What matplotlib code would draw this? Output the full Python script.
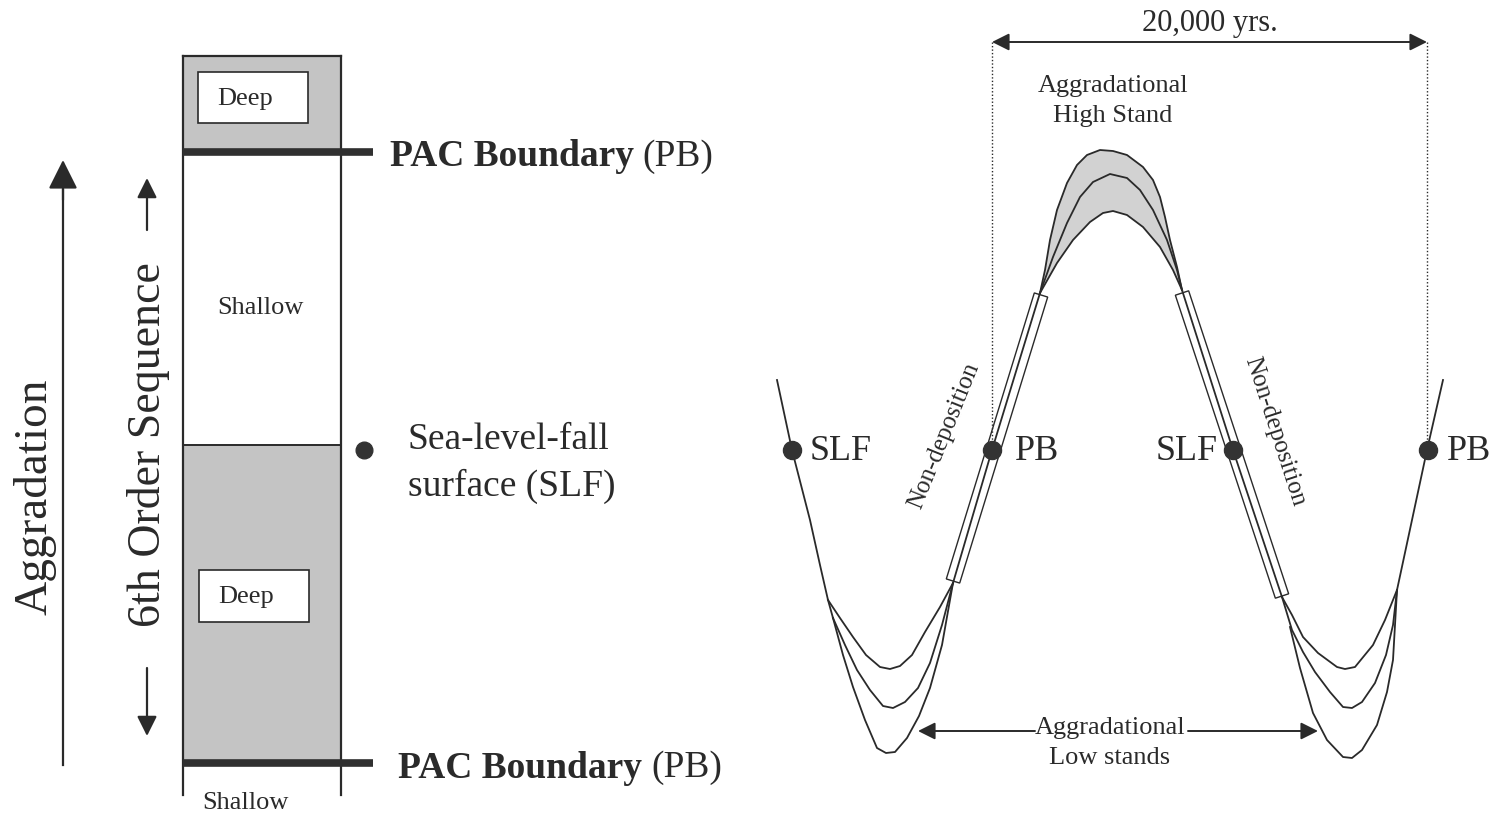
import numpy as np
import matplotlib

matplotlib.use("Agg")
import matplotlib.pyplot as plt
from matplotlib.patches import Rectangle, Polygon

plt.rcParams["font.family"] = ["Liberation Serif", "DejaVu Serif"]

INK = "#2a2a2a"
GREY = "#c4c4c4"
PEAK_GREY = "#d2d2d2"

# ---- left panel: stratigraphic column (pixel coordinates, y down) ----
COLUMN_X = [183, 341]
COLUMN_TOP = 56
PB_UPPER_Y = 152
SLF_Y = 445
PB_LOWER_Y = 763
COLUMN_BOTTOM = 795
DEEP_BOXES = [(198, 72, 110, 51), (199, 570, 110, 52)]

# ---- right panel: sea-level curve ----
LEFT_LIMB_X = [777, 792, 810, 820, 828, 833]
LEFT_LIMB_Y = [380, 450, 520, 565, 600, 618]
TROUGH_L_UP_X = [828, 840, 853, 866, 880, 890, 900, 912, 925, 940, 953]
TROUGH_L_UP_Y = [600, 618, 637, 655, 667, 669, 666, 655, 632, 607, 583]
TROUGH_L_MID_X = [833, 845, 857, 870, 883, 893, 905, 918, 930, 942, 953]
TROUGH_L_MID_Y = [618, 645, 670, 690, 706, 708, 702, 688, 663, 625, 583]
TROUGH_L_LOW_X = [833, 843, 853, 865, 877, 886, 895, 907, 919, 930, 942, 953]
TROUGH_L_LOW_Y = [618, 655, 687, 720, 748, 753, 752, 738, 716, 688, 645, 583]
RISE_X = [953, 992, 1040]
RISE_Y = [583, 450, 293]
PEAK_TOP_X = [1040, 1045, 1050, 1057, 1067, 1077, 1087, 1100, 1113, 1127, 1143, 1153, 1160, 1165,
              1170, 1177, 1182]
PEAK_TOP_Y = [293, 270, 240, 210, 183, 165, 155, 150, 151, 155, 167, 180, 197, 217, 240, 267, 290]
PEAK_MID_X = [1040, 1053, 1067, 1080, 1093, 1110, 1127, 1140, 1153, 1167, 1177, 1182]
PEAK_MID_Y = [293, 257, 223, 197, 182, 174, 178, 190, 210, 240, 270, 290]
PEAK_LOW_X = [1040, 1057, 1073, 1090, 1103, 1113, 1127, 1143, 1160, 1173, 1182]
PEAK_LOW_Y = [293, 263, 240, 222, 213, 211, 215, 227, 247, 270, 290]
FALL_X = [1182, 1233, 1282]
FALL_Y = [290, 450, 597]
TROUGH_R_UP_X = [1282, 1292, 1303, 1318, 1337, 1345, 1355, 1373, 1385, 1397]
TROUGH_R_UP_Y = [597, 615, 637, 653, 667, 669, 667, 645, 620, 590]
TROUGH_R_MID_X = [1282, 1292, 1303, 1315, 1330, 1343, 1352, 1362, 1375, 1386, 1393, 1397]
TROUGH_R_MID_Y = [597, 630, 652, 672, 692, 707, 708, 702, 683, 655, 625, 590]
TROUGH_R_LOW_X = [1290, 1300, 1313, 1327, 1343, 1352, 1362, 1377, 1387, 1393, 1397]
TROUGH_R_LOW_Y = [627, 668, 713, 740, 757, 758, 750, 725, 692, 660, 590]
RIGHT_LIMB_X = [1397, 1427, 1443]
RIGHT_LIMB_Y = [590, 450, 380]

MARKERS_X = [792, 992, 1233, 1428]
MARKERS_Y = [450, 450, 450, 450]
MARKER_LABELS = ["SLF", "PB", "SLF", "PB"]

NONDEP_ZONES = [((953, 581), (1041, 295)), ((1182, 293), (1282, 596))]
SPAN_X = [992, 1427]
SPAN_Y = 42


def band(ax, p0, p1, half_width):
    p0 = np.asarray(p0, float)
    p1 = np.asarray(p1, float)
    d = p1 - p0
    n = np.array([-d[1], d[0]]) / np.hypot(*d) * half_width
    corners = [p0 + n, p1 + n, p1 - n, p0 - n]
    ax.add_patch(Polygon(corners, closed=True, fill=False, edgecolor=INK, linewidth=1.0))


def arrow(ax, start, end, scale, lw):
    ax.annotate(
        "",
        xy=end,
        xytext=start,
        arrowprops=dict(arrowstyle="-|>", color=INK, lw=lw, mutation_scale=scale, shrinkA=0, shrinkB=0),
    )


def main() -> None:
    fig = plt.figure(figsize=(14.95, 8.15), dpi=100)
    ax = fig.add_axes([0, 0, 1, 1])
    ax.set_xlim(0, 1495)
    ax.set_ylim(815, 0)
    ax.axis("off")

    # column
    x0, x1 = COLUMN_X
    w = x1 - x0
    ax.add_patch(Rectangle((x0, COLUMN_TOP), w, PB_UPPER_Y - COLUMN_TOP, facecolor=GREY, edgecolor="none"))
    ax.add_patch(Rectangle((x0, SLF_Y), w, PB_LOWER_Y - SLF_Y, facecolor=GREY, edgecolor="none"))
    ax.plot([x0, x1], [COLUMN_TOP, COLUMN_TOP], color=INK, lw=1.6)
    ax.plot([x0, x0], [COLUMN_TOP, COLUMN_BOTTOM], color=INK, lw=1.6)
    ax.plot([x1, x1], [COLUMN_TOP, COLUMN_BOTTOM], color=INK, lw=1.6)
    ax.plot([x0, x1], [SLF_Y, SLF_Y], color=INK, lw=1.4)
    for y in (PB_UPPER_Y, PB_LOWER_Y):
        ax.plot([x0, 373], [y, y], color="#303030", lw=5.5, solid_capstyle="butt")
    for bx, by, bw, bh in DEEP_BOXES:
        ax.add_patch(Rectangle((bx, by), bw, bh, facecolor="white", edgecolor=INK, lw=1.2))
        ax.text(bx + bw / 2 - 8, by + bh / 2 + 1, "Deep", fontsize=19, ha="center", va="center", color=INK)
    ax.text(260, 308, "Shallow", fontsize=19, ha="center", va="center", color=INK)
    ax.text(245, 803, "Shallow", fontsize=19, ha="center", va="center", color=INK)

    # side arrows and labels
    ax.plot([63, 63], [765, 190], color=INK, lw=1.6)
    arrow(ax, (63, 200), (63, 160), 45, 1.6)
    ax.text(35, 497, "Aggradation", fontsize=34, rotation=90, ha="center", va="center", color=INK)
    ax.text(148, 445, "6th Order Sequence", fontsize=33, rotation=90, ha="center", va="center", color=INK)
    arrow(ax, (147, 230), (147, 178), 30, 1.6)
    arrow(ax, (147, 668), (147, 736), 30, 1.6)

    ax.text(390, 157, "PAC Boundary", fontsize=27, fontweight="bold", ha="left", va="center", color=INK)
    ax.text(642, 157, "(PB)", fontsize=27, ha="left", va="center", color=INK)
    ax.text(398, 768, "PAC Boundary", fontsize=27, fontweight="bold", ha="left", va="center", color=INK)
    ax.text(651, 768, "(PB)", fontsize=27, ha="left", va="center", color=INK)
    ax.plot([364], [450], "o", color="#333333", markersize=12)
    ax.text(408, 440, "Sea-level-fall", fontsize=27, ha="left", va="center", color=INK)
    ax.text(408, 486, "surface (SLF)", fontsize=27, ha="left", va="center", color=INK)

    # right panel: time span
    for x in SPAN_X:
        ax.plot([x, x], [SPAN_Y, 450], color=INK, lw=1.0, linestyle=(0, (1, 1.5)))
    ax.annotate(
        "",
        xy=(SPAN_X[0], SPAN_Y),
        xytext=(SPAN_X[1], SPAN_Y),
        arrowprops=dict(arrowstyle="<|-|>", color=INK, lw=1.4, mutation_scale=26, shrinkA=0, shrinkB=0),
    )
    ax.text(1210, 24, "20,000 yrs.", fontsize=22, ha="center", va="center", color=INK)
    ax.text(1113, 101, "Aggradational\nHigh Stand", fontsize=19, ha="center", va="center",
            linespacing=1.45, color=INK)

    # shaded high stand
    fill_x = PEAK_TOP_X + PEAK_LOW_X[::-1]
    fill_y = PEAK_TOP_Y + PEAK_LOW_Y[::-1]
    ax.fill(fill_x, fill_y, color=PEAK_GREY, lw=0)

    curves = [
        (LEFT_LIMB_X, LEFT_LIMB_Y), (TROUGH_L_UP_X, TROUGH_L_UP_Y), (TROUGH_L_MID_X, TROUGH_L_MID_Y),
        (TROUGH_L_LOW_X, TROUGH_L_LOW_Y), (RISE_X, RISE_Y), (PEAK_TOP_X, PEAK_TOP_Y),
        (PEAK_MID_X, PEAK_MID_Y), (PEAK_LOW_X, PEAK_LOW_Y), (FALL_X, FALL_Y),
        (TROUGH_R_UP_X, TROUGH_R_UP_Y), (TROUGH_R_MID_X, TROUGH_R_MID_Y),
        (TROUGH_R_LOW_X, TROUGH_R_LOW_Y), (RIGHT_LIMB_X, RIGHT_LIMB_Y),
    ]
    for cx, cy in curves:
        ax.plot(cx, cy, color=INK, lw=1.3, solid_joinstyle="round")

    for p0, p1 in NONDEP_ZONES:
        band(ax, p0, p1, 7)

    ax.plot(MARKERS_X, MARKERS_Y, "o", color="#333333", markersize=13, linestyle="none")
    ax.text(810, 452, MARKER_LABELS[0], fontsize=26, ha="left", va="center", color=INK)
    ax.text(1015, 452, MARKER_LABELS[1], fontsize=26, ha="left", va="center", color=INK)
    ax.text(1218, 452, MARKER_LABELS[2], fontsize=26, ha="right", va="center", color=INK)
    ax.text(1447, 452, MARKER_LABELS[3], fontsize=26, ha="left", va="center", color=INK)

    ax.text(944, 436, "Non-deposition", fontsize=18, rotation=68, ha="center", va="center", color=INK)
    ax.text(1275, 432, "Non-deposition", fontsize=18, rotation=-72, ha="center", va="center", color=INK)

    # low stands
    ax.text(1110, 743, "Aggradational\nLow stands", fontsize=19, ha="center", va="center",
            linespacing=1.45, color=INK)
    arrow(ax, (1035, 731), (918, 731), 26, 1.4)
    arrow(ax, (1188, 731), (1318, 731), 26, 1.4)

    fig.savefig("out.png", dpi=100)
    plt.close(fig)


if __name__ == "__main__":
    main()
